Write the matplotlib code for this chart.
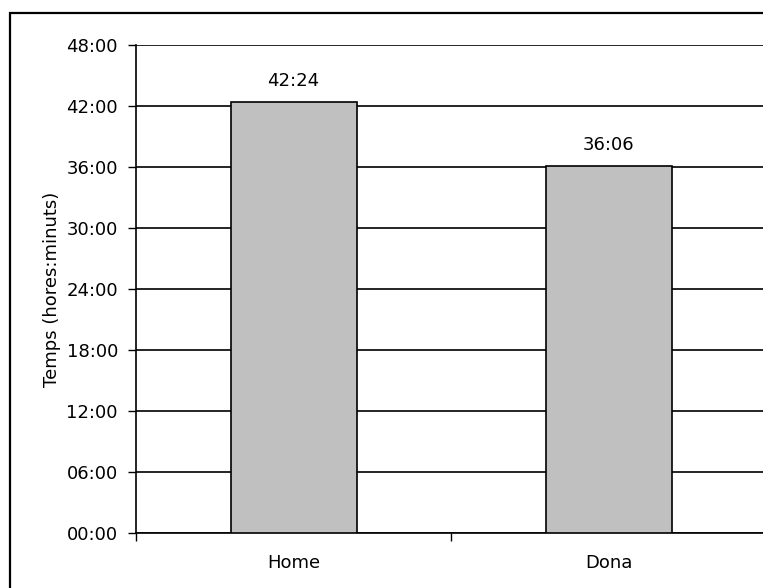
import matplotlib.pyplot as plt
from matplotlib.patches import Rectangle

categories = ["Home", "Dona"]
hours = [42.4, 36.1]            # 42:24 and 36:06
bar_labels = ["42:24", "36:06"]
yticks = [0, 6, 12, 18, 24, 30, 36, 42, 48]
ytick_labels = ["00:00", "06:00", "12:00", "18:00", "24:00", "30:00", "36:00", "42:00", "48:00"]

fs = 13

fig = plt.figure(figsize=(7.63, 5.88), dpi=100)
W, H = 763, 588

# axes placed in pixel coords: left 136, top 45, bottom 533, right ~766
ax = fig.add_axes([136 / W, (H - 533) / H, (766 - 136) / W, (533 - 45) / H])

x = list(range(len(categories)))
ax.bar(x, hours, width=0.4, color="#c0c0c0", edgecolor="black", linewidth=1.2, zorder=3)
for xi, v, lab in zip(x, hours, bar_labels):
    ax.text(xi, v + 1.2, lab, ha="center", va="bottom", fontsize=fs)

ax.set_xlim(-0.5, 1.5)
ax.set_ylim(0, 48)
ax.set_yticks(yticks)
ax.set_yticklabels(ytick_labels, fontsize=fs)
ax.yaxis.grid(True, color="black", linewidth=1.2)
ax.set_axisbelow(True)

ax.set_xticks(x)
ax.set_xticklabels(categories, fontsize=fs)
ax.tick_params(axis="x", length=0, pad=15)
ax.set_xticks([-0.5, 0.5, 1.5], minor=True)
ax.tick_params(axis="x", which="minor", length=6, width=1, direction="out")
ax.tick_params(axis="y", length=6, width=1, direction="out", pad=7)

for s in ["top", "right"]:
    ax.spines[s].set_visible(False)
ax.spines["left"].set_linewidth(1.2)
ax.spines["bottom"].set_linewidth(1.2)

ax.set_ylabel("Temps (hores:minuts)", fontsize=fs, labelpad=4)

# outer chart border, cropped at right and bottom
fig.patches.append(Rectangle((10 / W, -0.1), 1.2, (H - 13) / H + 0.1,
                             transform=fig.transFigure, fill=False,
                             edgecolor="black", linewidth=1.6))

fig.savefig("out.png", dpi=100)
